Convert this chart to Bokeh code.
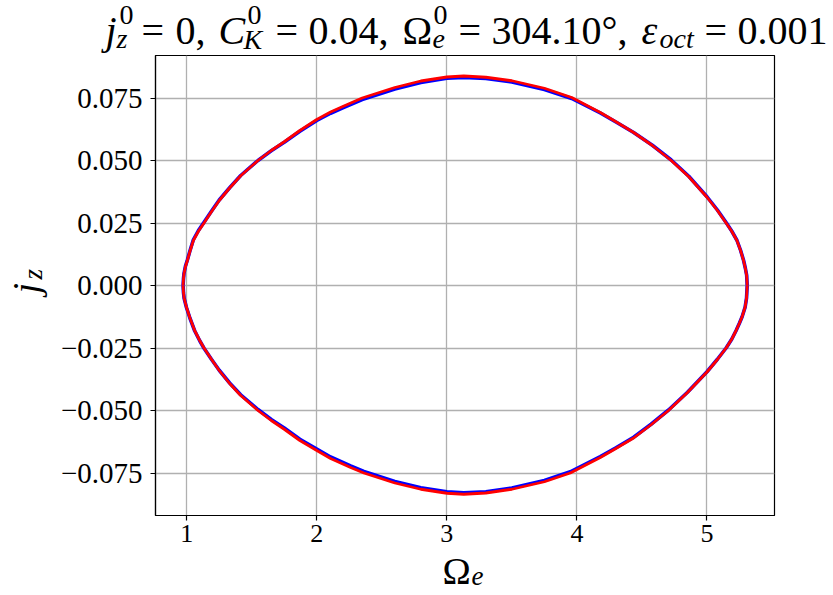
import math
from bokeh.plotting import figure
from bokeh.models import FixedTicker, Range1d
from bokeh.layouts import column, row
from bokeh.core.properties import value
from bokeh.embed import file_html
from bokeh.resources import INLINE

# ---------------- data ----------------
omega_upper = [0.972, 0.975, 0.979, 0.990, 1.005, 1.025, 1.051, 1.09, 1.133, 1.19, 1.25,
               1.33, 1.415, 1.548, 1.65, 1.75, 1.87, 2.0, 2.106, 2.2, 2.349, 2.6, 2.8,
               3.0, 3.13, 3.3, 3.5, 3.75, 3.96, 4.18, 4.30, 4.436, 4.58, 4.725, 4.86,
               5.0, 5.08, 5.147, 5.19, 5.230, 5.258, 5.281, 5.295, 5.305, 5.309]
jz_upper_red = [0.0, 0.0025, 0.0047, 0.0075, 0.010, 0.0137, 0.018, 0.0217, 0.025, 0.0295,
                0.034, 0.0390, 0.0439, 0.050, 0.0540, 0.0575, 0.0620, 0.0664, 0.0694,
                0.0716, 0.0750, 0.0792, 0.0818, 0.0834, 0.0838, 0.0833, 0.0819, 0.0789,
                0.0752, 0.0692, 0.0655, 0.0612, 0.0560, 0.050, 0.0435, 0.0353, 0.0300,
                0.025, 0.0217, 0.018, 0.014, 0.010, 0.0068, 0.0040, 0.0]
jz_upper_blue = [0.0, 0.0026, 0.0048, 0.0077, 0.0102, 0.0139, 0.0183, 0.0220, 0.0253,
                 0.0297, 0.0342, 0.0391, 0.0440, 0.0500, 0.0539, 0.0573, 0.0617, 0.0660,
                 0.0689, 0.0711, 0.0744, 0.0786, 0.0812, 0.0829, 0.0832, 0.0828, 0.0814,
                 0.0784, 0.0748, 0.0690, 0.0654, 0.0612, 0.0561, 0.0502, 0.0437, 0.0355,
                 0.0302, 0.0252, 0.0218, 0.0181, 0.0141, 0.0101, 0.0069, 0.0041, 0.0]

omega_lower = [0.972, 0.975, 0.980, 0.998, 1.025, 1.061, 1.10, 1.133, 1.19, 1.25, 1.33,
               1.415, 1.548, 1.65, 1.75, 1.87, 2.0, 2.106, 2.26, 2.362, 2.6, 2.8, 3.0,
               3.13, 3.3, 3.5, 3.75, 3.949, 4.18, 4.30, 4.436, 4.57, 4.704, 4.85, 5.0,
               5.08, 5.147, 5.19, 5.224, 5.250, 5.270, 5.293, 5.304, 5.309]
jz_lower_red = [0.0, -0.0027, -0.0050, -0.0087, -0.0130, -0.018, -0.0220, -0.025, -0.0295,
                -0.034, -0.0392, -0.044, -0.050, -0.0540, -0.0575, -0.0620, -0.0660,
                -0.0692, -0.0728, -0.0750, -0.0790, -0.0815, -0.0831, -0.0835, -0.0830,
                -0.0815, -0.0785, -0.0750, -0.0688, -0.0652, -0.0610, -0.0557, -0.050,
                -0.0428, -0.0346, -0.0296, -0.025, -0.0215, -0.018, -0.0150, -0.0125,
                -0.0087, -0.0050, 0.0]
jz_lower_blue = [0.0, -0.0028, -0.0051, -0.0088, -0.0131, -0.0181, -0.0221, -0.0251,
                 -0.0295, -0.0339, -0.0390, -0.0437, -0.0496, -0.0536, -0.0570, -0.0615,
                 -0.0654, -0.0686, -0.0722, -0.0744, -0.0784, -0.0809, -0.0825, -0.0829,
                 -0.0825, -0.0810, -0.0780, -0.0745, -0.0684, -0.0649, -0.0607, -0.0555,
                 -0.0498, -0.0427, -0.0345, -0.0295, -0.0250, -0.0215, -0.0180, -0.0150,
                 -0.0125, -0.0087, -0.0050, 0.0]

x_ticks = [1, 2, 3, 4, 5]
x_tick_labels = ["1", "2", "3", "4", "5"]
y_ticks = [-0.075, -0.05, -0.025, 0.0, 0.025, 0.05, 0.075]
y_tick_labels = ["\u22120.075", "\u22120.050", "\u22120.025", "0.000", "0.025", "0.050", "0.075"]

SERIF = "Liberation Serif"

# ---------------- page geometry (pixels) ----------------
TOTAL_W = 830
TITLE_H = 55
YLAB_W = 50
MAIN_W, MAIN_H = TOTAL_W - YLAB_W, 495
XLAB_H = 44
FRAME_L, FRAME_R = 155, 774          # page x of plot frame
FRAME_B = TITLE_H + 460              # page y of frame bottom


def text_panel(width, height, x0, y0):
    """Blank figure whose data coordinates equal page pixels (y negated)."""
    f = figure(width=width, height=height, title=None,
               x_range=Range1d(x0, x0 + width), y_range=Range1d(-(y0 + height), -y0),
               x_axis_type=None, y_axis_type=None, output_backend="svg",
               toolbar_location=None, min_border=0)
    f.outline_line_color = None
    f.grid.visible = False
    f.background_fill_color = "white"
    f.border_fill_color = "white"
    return f


def put(f, txt, x, y, size, italic=False, angle=0.0):
    f.text(x=[x], y=[-y], text=[txt], text_font=value(SERIF),
           text_font_size=value(f"{size}px"),
           text_font_style="italic" if italic else "normal",
           text_color="black", text_align="left", text_baseline="alphabetic",
           angle=angle)


# ---------------- title ----------------
title = text_panel(TOTAL_W, TITLE_H, 0, 0)
B, S = 40, 28
by, sup_y, sub_y = 30, 14, 38
put(title, "j", 105, by, B, True)
put(title, "0", 119, sup_y, S)
put(title, "z", 116, sub_y, S, True)
put(title, "=", 141, by, B)
put(title, "0,", 175, by, B)
put(title, "C", 218, by, B, True)
put(title, "0", 247, sup_y, S)
put(title, "K", 243, sub_y + 1, S, True)
put(title, "=", 275, by, B)
put(title, "0.04,", 308, by, B)
put(title, "\u03a9", 402, by, B)
put(title, "0", 433, sup_y, S)
put(title, "e", 432, sub_y, S, True)
put(title, "=", 458, by, B)
put(title, "304.10\u00b0,", 491, by, B)
put(title, "\u03b5", 641, by, B, True)
put(title, "oct", 659, sub_y, S, True)
put(title, "=", 704, by, B)
put(title, "0.001", 737, by, B)

# ---------------- y label ----------------
ylab = text_panel(YLAB_W, MAIN_H, 0, TITLE_H)
put(ylab, "j", 25, 311, 38, True, angle=math.pi / 2)
put(ylab, "z", 32, 296, 27, True, angle=math.pi / 2)

# ---------------- main plot ----------------
p = figure(width=MAIN_W, height=MAIN_H, title=None,
           x_range=Range1d(0.760, 5.519), y_range=Range1d(-0.0920, 0.0920),
           output_backend="svg", toolbar_location=None,
           min_border_left=FRAME_L - YLAB_W, min_border_right=YLAB_W + MAIN_W - FRAME_R,
           min_border_top=0, min_border_bottom=TITLE_H + MAIN_H - FRAME_B)
p.background_fill_color = "white"
p.border_fill_color = "white"
p.outline_line_color = "black"
p.outline_line_width = 1.2

for ax in (p.xaxis, p.yaxis):
    ax.axis_line_color = "black"
    ax.axis_line_width = 1.2
    ax.major_tick_line_color = "black"
    ax.major_tick_line_width = 1.2
    ax.major_tick_out = 5
    ax.major_tick_in = 0
    ax.minor_tick_line_color = None
    ax.major_label_text_font = SERIF
    ax.major_label_text_color = "black"

p.xaxis.ticker = FixedTicker(ticks=x_ticks)
p.xaxis.major_label_overrides = {t: s for t, s in zip(x_ticks, x_tick_labels)}
p.xaxis.major_label_text_font_size = "26px"
p.xaxis.major_label_standoff = 4

p.yaxis.ticker = FixedTicker(ticks=y_ticks)
p.yaxis.major_label_overrides = {t: s for t, s in zip(y_ticks, y_tick_labels)}
p.yaxis.major_label_text_font_size = "29px"
p.yaxis.major_label_standoff = 8

for g in (p.xgrid, p.ygrid):
    g.grid_line_color = "#b0b0b0"
    g.grid_line_width = 1.3
p.xgrid.ticker = FixedTicker(ticks=x_ticks)
p.ygrid.ticker = FixedTicker(ticks=y_ticks)

# curves: blue underneath, red on top
p.line(omega_upper, jz_upper_blue, line_color="blue", line_width=3.6, line_join="round")
p.line(omega_lower, jz_lower_blue, line_color="blue", line_width=3.6, line_join="round")
p.line(omega_upper, jz_upper_red, line_color="red", line_width=2.8, line_join="round")
p.line(omega_lower, jz_lower_red, line_color="red", line_width=2.8, line_join="round")

# ---------------- x label ----------------
xlab = text_panel(TOTAL_W, XLAB_H, 0, TITLE_H + MAIN_H)
put(xlab, "\u03a9", 442, 570, 38)
put(xlab, "e", 471, 575, 27, True)

layout = column(title, row(ylab, p), xlab)
open("out.html", "w").write(file_html(layout, INLINE))
